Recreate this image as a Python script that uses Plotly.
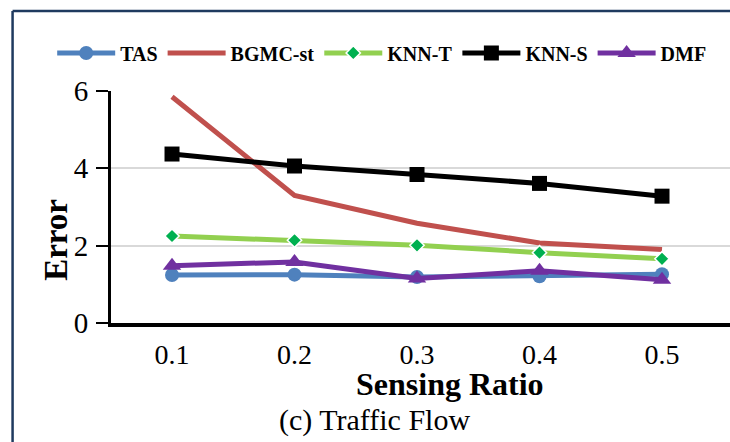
import plotly.graph_objects as go

ratios = ["0.1", "0.2", "0.3", "0.4", "0.5"]
tas = [1.24, 1.25, 1.19, 1.21, 1.26]
bgmc = [5.85, 3.30, 2.58, 2.07, 1.90]
knn_t = [2.25, 2.14, 2.01, 1.82, 1.66]
knn_s = [4.37, 4.06, 3.84, 3.61, 3.28]
dmf = [1.48, 1.58, 1.15, 1.35, 1.12]

series = [
    ("TAS", tas, "#4F81BD", dict(symbol="circle", size=14, color="#4F81BD")),
    ("BGMC-st", bgmc, "#C0504D", None),
    ("KNN-T", knn_t, "#92D050", dict(symbol="diamond", size=11, color="#00B050",
                                     line=dict(color="white", width=1.5))),
    ("KNN-S", knn_s, "#000000", dict(symbol="square", size=15, color="#000000")),
    ("DMF", dmf, "#7030A0", dict(symbol="triangle-up", size=16, color="#7030A0")),
]

fig = go.Figure()
for name, vals, col, mk in series:
    if mk is None:
        fig.add_trace(go.Scatter(x=ratios, y=vals, name=name, mode="lines",
                                 line=dict(color=col, width=5)))
    else:
        fig.add_trace(go.Scatter(x=ratios, y=vals, name=name, mode="lines+markers",
                                 line=dict(color=col, width=5), marker=mk))

serif = "Liberation Serif"
frame_x = -0.159
frame_y = (323 - 11) / 232
fig.update_layout(
    width=730, height=442,
    margin=dict(l=111, r=0, t=91, b=119),
    paper_bgcolor="white", plot_bgcolor="white",
    font=dict(family=serif, color="black"),
    showlegend=True,
    legend=dict(orientation="h", x=-0.095, xanchor="left", y=1.164, yanchor="middle",
                font=dict(family=serif, size=20, color="black", weight="bold"),
                itemwidth=58, tracegroupgap=0, bgcolor="rgba(0,0,0,0)"),
    xaxis=dict(type="category", range=[-0.498, 4.555], showline=True, linecolor="black",
               linewidth=4, ticks="", showgrid=False,
               tickfont=dict(family=serif, size=28, color="black"),
               ticklabelstandoff=3, zeroline=False),
    yaxis=dict(range=[0, 6], dtick=2, showline=True, linecolor="black", linewidth=3,
               ticks="outside", ticklen=12, tickwidth=2, tickcolor="black",
               showgrid=True, gridcolor="#D9D9D9", gridwidth=2, zeroline=False,
               tickfont=dict(family=serif, size=29, color="black"), ticklabelstandoff=2),
    annotations=[
        dict(text="Error", textangle=-90, x=-0.089, y=0.358, xref="paper", yref="paper",
             showarrow=False, xanchor="center", yanchor="middle",
             font=dict(family=serif, size=33, weight="bold", color="black")),
        dict(text="Sensing Ratio", x=0.5477, y=-0.262, xref="paper", yref="paper",
             showarrow=False, xanchor="center", yanchor="middle",
             font=dict(family=serif, size=32, weight="bold", color="black")),
        dict(text="(c) Traffic Flow", x=0.4249, y=-0.42, xref="paper", yref="paper",
             showarrow=False, xanchor="center", yanchor="middle",
             font=dict(family=serif, size=30, color="black")),
    ],
    shapes=[
        dict(type="line", xref="paper", yref="paper", x0=frame_x, x1=frame_x,
             y0=-0.6, y1=frame_y, line=dict(color="#1F3A5F", width=2.5), layer="below"),
        dict(type="line", xref="paper", yref="paper", x0=frame_x, x1=1.0,
             y0=frame_y, y1=frame_y, line=dict(color="#1F3A5F", width=2.5), layer="below"),
    ],
)

fig.write_html("out.html", config={"displayModeBar": False},
               post_script="document.body.style.margin='0px';"
                           "document.body.style.overflow='hidden';"
                           "document.documentElement.style.overflow='hidden';")
